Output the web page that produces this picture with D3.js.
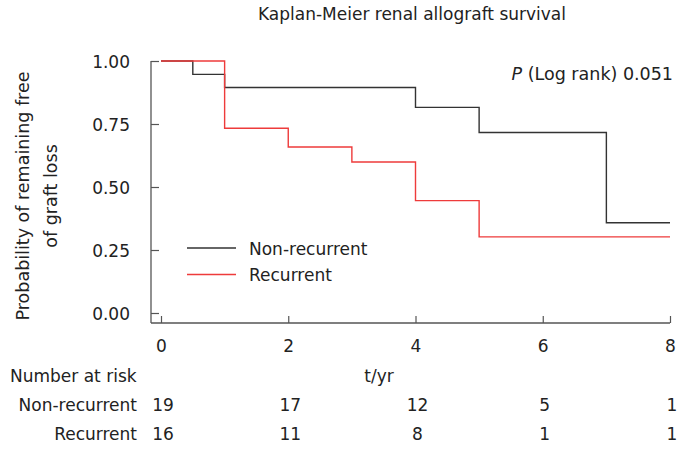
<!DOCTYPE html>
<html>
<head>
<meta charset="utf-8">
<script src="https://cdn.jsdelivr.net/npm/d3@7"></script>
<style>
  html, body { margin: 0; padding: 0; background: #fff; }
  svg { display: block; font-family: "DejaVu Sans", Verdana, sans-serif; }
</style>
</head>
<body>
<svg id="chart" width="692" height="457"></svg>
<script>
// ---- data ----
const nonRecurrentTimes = [0, 0.5, 1, 4, 5, 7, 8];
const nonRecurrentSurv  = [1.0, 0.947, 0.895, 0.816, 0.716, 0.358, 0.358];
const recurrentTimes    = [0, 1, 2, 3, 4, 5, 8];
const recurrentSurv     = [1.0, 0.733, 0.659, 0.599, 0.446, 0.302, 0.302];

const xTicks = [0, 2, 4, 6, 8];
const yTicks = [0, 0.25, 0.5, 0.75, 1.0];

const riskTimes        = [0, 2, 4, 6, 8];
const riskNonRecurrent = [19, 17, 12, 5, 1];
const riskRecurrent    = [16, 11, 8, 1, 1];

const groupNames = ["Non-recurrent", "Recurrent"];
const titleText = "Kaplan-Meier renal allograft survival";
const pValueText = "0.051";

// ---- layout ----
const svg = d3.select("#chart");
const FS = 17;
const colBlack = "#333333";
const colRed = "#ee3b3b";
const axisCol = "#555555";

const x = d3.scaleLinear().domain([0, 8]).range([161, 670]);
const y = d3.scaleLinear().domain([0, 1]).range([313, 61]);
const axisX = 151, axisY = 323;

// title
svg.append("text").attr("x", 412).attr("y", 20).attr("text-anchor", "middle")
  .attr("font-size", FS).attr("fill", "#222").text(titleText);

// axes
const gy = svg.append("g").attr("transform", `translate(${axisX},0)`)
  .call(d3.axisLeft(y).tickValues(yTicks).tickFormat(d3.format(".2f"))
        .tickSize(-8).tickPadding(21));
const gx = svg.append("g").attr("transform", `translate(0,${axisY})`)
  .call(d3.axisBottom(x).tickValues(xTicks).tickFormat(d3.format("d"))
        .tickSize(-7).tickPadding(17));
[gx, gy].forEach(g => {
  g.select(".domain").remove();
  g.selectAll(".tick line").attr("stroke", axisCol).attr("stroke-width", 1.2);
  g.selectAll(".tick text").attr("font-size", FS).attr("fill", "#222")
    .attr("font-family", "DejaVu Sans, Verdana, sans-serif");
});
gx.selectAll(".tick text").attr("dy", null).attr("y", 29);
gy.selectAll(".tick text").attr("dy", "0.36em");

// axis lines
svg.append("line").attr("x1", axisX).attr("x2", axisX).attr("y1", y(1)).attr("y2", axisY)
  .attr("stroke", axisCol).attr("stroke-width", 1.3);
svg.append("line").attr("x1", axisX).attr("x2", x(8)).attr("y1", axisY).attr("y2", axisY)
  .attr("stroke", axisCol).attr("stroke-width", 1.3);

// y axis title
const yTitle = svg.append("g").attr("transform", "translate(0,196) rotate(-90)");
yTitle.append("text").attr("x", 0).attr("y", 23).attr("dominant-baseline", "central")
  .attr("text-anchor", "middle").attr("font-size", 17.5).attr("fill", "#222")
  .text("Probability of remaining free");
yTitle.append("text").attr("x", 0).attr("y", 51).attr("dominant-baseline", "central")
  .attr("text-anchor", "middle").attr("font-size", 17.5).attr("fill", "#222")
  .text("of graft loss");

// curves
const line = d3.line().x(d => x(d[0])).y(d => y(d[1])).curve(d3.curveStepAfter);
const nonData = d3.zip(nonRecurrentTimes, nonRecurrentSurv);
const recData = d3.zip(recurrentTimes, recurrentSurv);
svg.append("path").datum(nonData).attr("d", line).attr("fill", "none")
  .attr("stroke", colBlack).attr("stroke-width", 1.4);
svg.append("path").datum(recData).attr("d", line).attr("fill", "none")
  .attr("stroke", colRed).attr("stroke-width", 1.4);

// p-value
const pt = svg.append("text").attr("x", 673).attr("y", 80).attr("text-anchor", "end")
  .attr("font-size", 17.5).attr("fill", "#222");
pt.append("tspan").attr("font-style", "italic").text("P");
pt.append("tspan").text(" (Log rank) " + pValueText);

// legend
const legendCols = [colBlack, colRed];
groupNames.forEach((name, i) => {
  const ly = 248 + i * 26.5;
  svg.append("line").attr("x1", 187).attr("x2", 236).attr("y1", ly).attr("y2", ly)
    .attr("stroke", legendCols[i]).attr("stroke-width", 1.4);
  svg.append("text").attr("x", 249).attr("y", ly + 6.5).attr("font-size", FS)
    .attr("fill", "#222").text(name);
});

// number at risk table
svg.append("text").attr("x", 10).attr("y", 382).attr("font-size", FS).attr("fill", "#222")
  .text("Number at risk");
svg.append("text").attr("x", 379).attr("y", 382).attr("text-anchor", "middle")
  .attr("font-size", FS).attr("fill", "#222").text("t/yr");
[riskNonRecurrent, riskRecurrent].forEach((row, i) => {
  const by = 411 + i * 29;
  svg.append("text").attr("x", 137).attr("y", by).attr("text-anchor", "end")
    .attr("font-size", FS).attr("fill", "#222").text(groupNames[i]);
  svg.append("g").selectAll("text").data(row).join("text")
    .attr("x", (d, j) => x(riskTimes[j]) + 2).attr("y", by)
    .attr("text-anchor", "middle").attr("font-size", FS).attr("fill", "#222")
    .text(d => d);
});
</script>
</body>
</html>
